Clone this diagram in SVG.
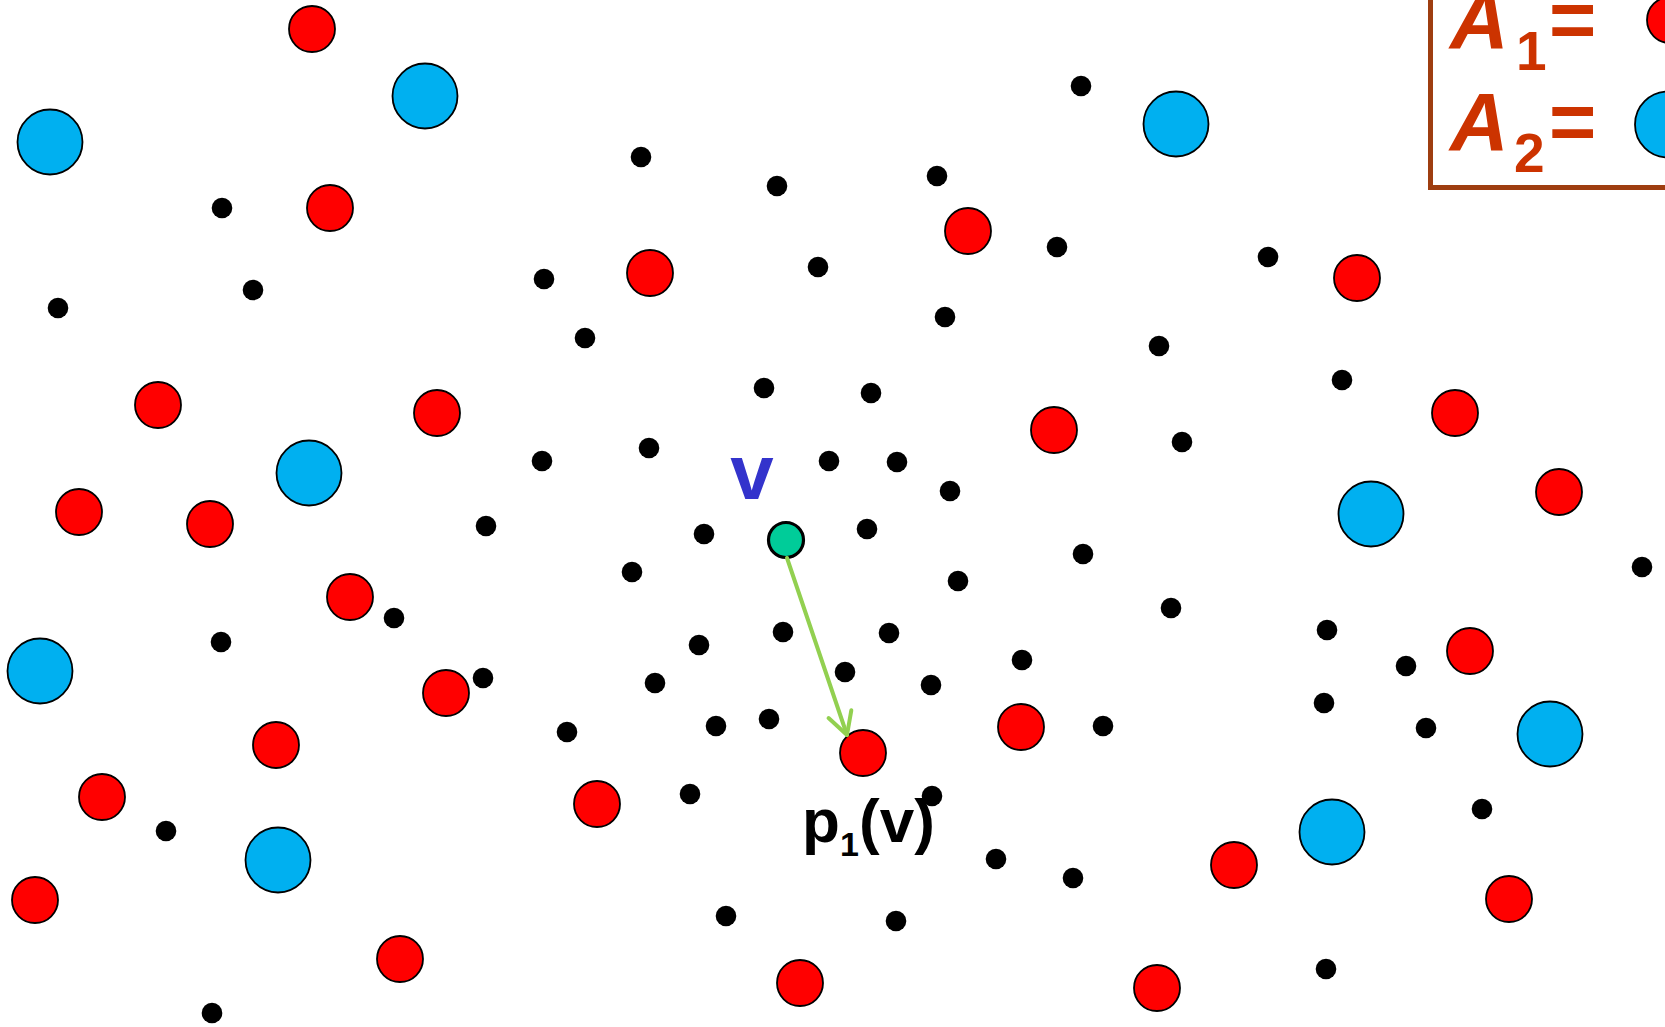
<svg xmlns="http://www.w3.org/2000/svg" width="1665" height="1027" viewBox="0 0 1665 1027">
<defs>
<style>
.r{fill:#FF0000;stroke:#000;stroke-width:1.8}
.b{fill:#00B0F0;stroke:#000;stroke-width:1.8}
.k{fill:#000}
.g{fill:#00CC99;stroke:#000;stroke-width:3.2}
.leg{font-family:"Liberation Sans",Arial,sans-serif;fill:#CC3300;font-weight:bold}
.lbl{font-family:"Liberation Sans",Arial,sans-serif;font-weight:bold}
.edge{stroke:#92D050;stroke-width:4;fill:none;stroke-linecap:round}
</style>
<marker id="chev" markerUnits="userSpaceOnUse" markerWidth="30" markerHeight="30" viewBox="-2 -2 28 30" refX="22" refY="13" orient="auto" overflow="visible">
<path d="M0,1 L22,13 L0,25" fill="none" stroke="#92D050" stroke-width="4" stroke-linecap="round" stroke-linejoin="round"/>
</marker>
</defs>
<rect width="1665" height="1027" fill="#fff"/>

<g id="legend">
<rect x="1430.5" y="-10" width="300" height="197.5" fill="none" stroke="#9E3D10" stroke-width="5"/>
<text class="leg" font-size="81"><tspan x="1450" y="48" font-style="italic">A</tspan><tspan x="1516" y="70" font-size="55">1</tspan><tspan x="1549" y="48">=</tspan></text>
<text class="leg" font-size="81"><tspan x="1450" y="150" font-style="italic">A</tspan><tspan x="1514" y="172" font-size="55">2</tspan><tspan x="1549" y="150">=</tspan></text>
<circle class="r" cx="1670" cy="20" r="23"/>
<circle class="b" cx="1668" cy="124.5" r="33"/>
</g>

<g id="blue-nodes">
<g id="u1"><circle class="b" cx="50" cy="142" r="32.5"/></g>
<g id="u2"><circle class="b" cx="425" cy="96" r="32.5"/></g>
<g id="u3"><circle class="b" cx="1176" cy="124" r="32.5"/></g>
<g id="u4"><circle class="b" cx="309" cy="473" r="32.5"/></g>
<g id="u5"><circle class="b" cx="1371" cy="514" r="32.5"/></g>
<g id="u6"><circle class="b" cx="40" cy="671" r="32.5"/></g>
<g id="u7"><circle class="b" cx="1550" cy="734" r="32.5"/></g>
<g id="u8"><circle class="b" cx="278" cy="860" r="32.5"/></g>
<g id="u9"><circle class="b" cx="1332" cy="832" r="32.5"/></g>
</g>

<g id="red-nodes">
<g id="r1"><circle class="r" cx="312" cy="29" r="23"/></g>
<g id="r2"><circle class="r" cx="330" cy="208" r="23"/></g>
<g id="r3"><circle class="r" cx="650" cy="273" r="23"/></g>
<g id="r4"><circle class="r" cx="968" cy="231" r="23"/></g>
<g id="r5"><circle class="r" cx="1357" cy="278" r="23"/></g>
<g id="r6"><circle class="r" cx="158" cy="405" r="23"/></g>
<g id="r7"><circle class="r" cx="437" cy="413" r="23"/></g>
<g id="r8"><circle class="r" cx="1054" cy="430" r="23"/></g>
<g id="r9"><circle class="r" cx="1455" cy="413" r="23"/></g>
<g id="r10"><circle class="r" cx="1559" cy="492" r="23"/></g>
<g id="r11"><circle class="r" cx="79" cy="512" r="23"/></g>
<g id="r12"><circle class="r" cx="210" cy="524" r="23"/></g>
<g id="r13"><circle class="r" cx="350" cy="597" r="23"/></g>
<g id="r14"><circle class="r" cx="1470" cy="651" r="23"/></g>
<g id="r15"><circle class="r" cx="446" cy="693" r="23"/></g>
<g id="r16"><circle class="r" cx="1021" cy="727" r="23"/></g>
<g id="r17"><circle class="r" cx="276" cy="745" r="23"/></g>
<g id="p1v"><circle class="r" cx="863" cy="753" r="23"/></g>
<g id="r19"><circle class="r" cx="102" cy="797" r="23"/></g>
<g id="r20"><circle class="r" cx="597" cy="804" r="23"/></g>
<g id="r21"><circle class="r" cx="1234" cy="865" r="23"/></g>
<g id="r22"><circle class="r" cx="35" cy="900" r="23"/></g>
<g id="r23"><circle class="r" cx="1509" cy="899" r="23"/></g>
<g id="r24"><circle class="r" cx="400" cy="959" r="23"/></g>
<g id="r25"><circle class="r" cx="800" cy="983" r="23"/></g>
<g id="r26"><circle class="r" cx="1157" cy="988" r="23"/></g>
</g>

<g id="black-nodes">
<g id="k1"><circle class="k" cx="1081" cy="86" r="10.3"/></g>
<g id="k2"><circle class="k" cx="641" cy="157" r="10.3"/></g>
<g id="k3"><circle class="k" cx="777" cy="186" r="10.3"/></g>
<g id="k4"><circle class="k" cx="937" cy="176" r="10.3"/></g>
<g id="k5"><circle class="k" cx="222" cy="208" r="10.3"/></g>
<g id="k6"><circle class="k" cx="1057" cy="247" r="10.3"/></g>
<g id="k7"><circle class="k" cx="1268" cy="257" r="10.3"/></g>
<g id="k8"><circle class="k" cx="818" cy="267" r="10.3"/></g>
<g id="k9"><circle class="k" cx="253" cy="290" r="10.3"/></g>
<g id="k10"><circle class="k" cx="544" cy="279" r="10.3"/></g>
<g id="k11"><circle class="k" cx="58" cy="308" r="10.3"/></g>
<g id="k12"><circle class="k" cx="585" cy="338" r="10.3"/></g>
<g id="k13"><circle class="k" cx="945" cy="317" r="10.3"/></g>
<g id="k14"><circle class="k" cx="1159" cy="346" r="10.3"/></g>
<g id="k15"><circle class="k" cx="764" cy="388" r="10.3"/></g>
<g id="k16"><circle class="k" cx="871" cy="393" r="10.3"/></g>
<g id="k17"><circle class="k" cx="1342" cy="380" r="10.3"/></g>
<g id="k18"><circle class="k" cx="1182" cy="442" r="10.3"/></g>
<g id="k19"><circle class="k" cx="649" cy="448" r="10.3"/></g>
<g id="k20"><circle class="k" cx="542" cy="461" r="10.3"/></g>
<g id="k21"><circle class="k" cx="829" cy="461" r="10.3"/></g>
<g id="k22"><circle class="k" cx="897" cy="462" r="10.3"/></g>
<g id="k23"><circle class="k" cx="950" cy="491" r="10.3"/></g>
<g id="k24"><circle class="k" cx="486" cy="526" r="10.3"/></g>
<g id="k25"><circle class="k" cx="704" cy="534" r="10.3"/></g>
<g id="k26"><circle class="k" cx="867" cy="529" r="10.3"/></g>
<g id="k27"><circle class="k" cx="1083" cy="554" r="10.3"/></g>
<g id="k28"><circle class="k" cx="632" cy="572" r="10.3"/></g>
<g id="k29"><circle class="k" cx="958" cy="581" r="10.3"/></g>
<g id="k30"><circle class="k" cx="1642" cy="567" r="10.3"/></g>
<g id="k31"><circle class="k" cx="1171" cy="608" r="10.3"/></g>
<g id="k32"><circle class="k" cx="394" cy="618" r="10.3"/></g>
<g id="k33"><circle class="k" cx="221" cy="642" r="10.3"/></g>
<g id="k34"><circle class="k" cx="1327" cy="630" r="10.3"/></g>
<g id="k35"><circle class="k" cx="699" cy="645" r="10.3"/></g>
<g id="k36"><circle class="k" cx="783" cy="632" r="10.3"/></g>
<g id="k37"><circle class="k" cx="889" cy="633" r="10.3"/></g>
<g id="k38"><circle class="k" cx="1406" cy="666" r="10.3"/></g>
<g id="k39"><circle class="k" cx="1022" cy="660" r="10.3"/></g>
<g id="k40"><circle class="k" cx="845" cy="672" r="10.3"/></g>
<g id="k41"><circle class="k" cx="483" cy="678" r="10.3"/></g>
<g id="k42"><circle class="k" cx="655" cy="683" r="10.3"/></g>
<g id="k43"><circle class="k" cx="931" cy="685" r="10.3"/></g>
<g id="k44"><circle class="k" cx="1324" cy="703" r="10.3"/></g>
<g id="k45"><circle class="k" cx="567" cy="732" r="10.3"/></g>
<g id="k46"><circle class="k" cx="716" cy="726" r="10.3"/></g>
<g id="k47"><circle class="k" cx="769" cy="719" r="10.3"/></g>
<g id="k48"><circle class="k" cx="1103" cy="726" r="10.3"/></g>
<g id="k49"><circle class="k" cx="1426" cy="728" r="10.3"/></g>
<g id="k50"><circle class="k" cx="690" cy="794" r="10.3"/></g>
<g id="k51"><circle class="k" cx="932" cy="796" r="10.3"/></g>
<g id="k52"><circle class="k" cx="166" cy="831" r="10.3"/></g>
<g id="k53"><circle class="k" cx="1482" cy="809" r="10.3"/></g>
<g id="k54"><circle class="k" cx="996" cy="859" r="10.3"/></g>
<g id="k55"><circle class="k" cx="1073" cy="878" r="10.3"/></g>
<g id="k56"><circle class="k" cx="726" cy="916" r="10.3"/></g>
<g id="k57"><circle class="k" cx="896" cy="921" r="10.3"/></g>
<g id="k58"><circle class="k" cx="1326" cy="969" r="10.3"/></g>
<g id="k59"><circle class="k" cx="212" cy="1013" r="10.3"/></g>
</g>

<g id="v">
<circle class="g" cx="786" cy="540" r="17.5"/>
<text class="lbl" x="752" y="499" font-size="78" fill="#3333CC" text-anchor="middle">v</text>
</g>

<g id="connectors">
<line class="edge" x1="787" y1="558" x2="847" y2="735" marker-end="url(#chev)"/>
</g>

<g id="p1v-label">
<text class="lbl" font-size="62" fill="#000"><tspan x="802" y="842">p</tspan><tspan x="840" y="856" font-size="34">1</tspan><tspan x="859" y="842">(v)</tspan></text>
</g>
</svg>
